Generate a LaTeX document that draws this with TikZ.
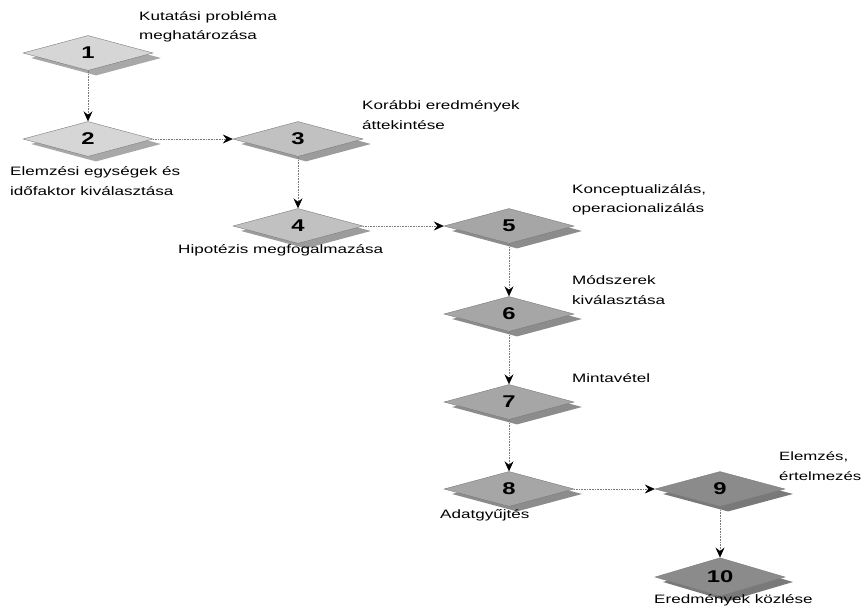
\documentclass[tikz,border=0pt]{standalone}
\usepackage{fontspec}
\setmainfont{Liberation Sans}[FakeStretch=1.4]
\usetikzlibrary{shapes.geometric,shadows,arrows.meta}
\definecolor{stepPale}{HTML}{D6D6D6}
\definecolor{stepPaleShade}{HTML}{A8A8A8}
\definecolor{stepLight}{HTML}{C1C1C1}
\definecolor{stepLightShade}{HTML}{9C9C9C}
\definecolor{stepMid}{HTML}{A6A6A6}
\definecolor{stepMidShade}{HTML}{8C8C8C}
\definecolor{stepDark}{HTML}{8B8B8B}
\definecolor{stepDarkShade}{HTML}{797979}
\definecolor{edgeGray}{HTML}{7A7A7A}

\begin{document}
\begin{tikzpicture}[x=1pt, y=-1pt,
    phase/.style={diamond, draw=edgeGray, line width=0.4pt, fill=#1,
      minimum width=130pt, minimum height=35pt, inner sep=0pt,
      font=\fontsize{17}{17}\selectfont\bfseries,
      drop shadow={shadow xshift=8pt, shadow yshift=-5pt, fill=#1Shade, draw=none, opacity=1}},
    note/.style={anchor=west, align=left, inner sep=0pt, font=\fontsize{12.2}{19.5}\selectfont},
    flow/.style={densely dotted, edgeGray, line width=0.6pt,
      -{Stealth[length=10pt, width=9pt, inset=3.5pt, color=black]}}]
  \useasboundingbox (0,0) rectangle (864,608);
  % ten research steps, stepping down and to the right
  \foreach \n/\x/\y/\c in {1/88/53/stepPale, 2/88/139/stepPale, 3/298/139/stepLight,
      4/298/226/stepLight, 5/509/226/stepMid, 6/509/314/stepMid, 7/509/402/stepMid,
      8/509/489/stepMid, 9/720/489/stepDark, 10/720/577/stepDark} {
    \node[phase=\c] (d\n) at (\x,\y) {\n};
  }
  \foreach \a/\b in {1/2, 2/3, 3/4, 4/5, 5/6, 6/7, 7/8, 8/9, 9/10} {
    \draw[flow] (d\a) -- (d\b);
  }
  % step names
  \node[note] (n1) at (139,27) {Kutatási probléma\\meghatározása};
  \node[note] (n2) at (10,181) {Elemzési egységek és\\időfaktor kiválasztása};
  \node[note] (n3) at (362,115) {Korábbi eredmények\\áttekintése};
  \node[note] (n4) at (178,250) {Hipotézis megfogalmazása};
  \node[note] (n5) at (572,200) {Konceptualizálás,\\operacionalizálás};
  \node[note] (n6) at (572,290) {Módszerek\\kiválasztása};
  \node[note] (n7) at (572,378) {Mintavétel};
  \node[note] (n8) at (440,515) {Adatgyűjtés};
  \node[note, font=\fontsize{12}{19.5}\selectfont] (n9) at (779,466) {Elemzés,\\értelmezés};
  \node[note] (n10) at (654,600) {Eredmények közlése};
\end{tikzpicture}
\end{document}
